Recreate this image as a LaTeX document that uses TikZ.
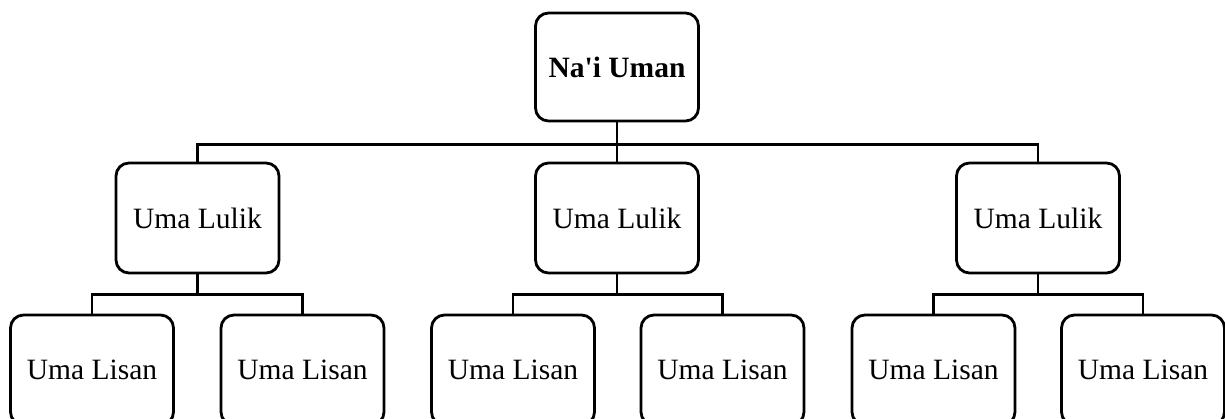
\documentclass[tikz,border=0pt]{standalone}
\usepackage{fontspec}
\setmainfont{Liberation Serif}
\begin{document}
\begin{tikzpicture}[x=1pt,y=-1pt,
  box/.style={draw,line width=2.8pt,rounded corners=13pt,minimum width=163pt,minimum height=110pt,inner sep=0pt,font=\fontsize{29.5}{34}\selectfont,anchor=center},
  link/.style={line width=2.4pt}]
\useasboundingbox (0,0) rectangle (1225,419);
\clip (0,0) rectangle (1225,419);
\node[box,minimum height=108pt,font=\fontsize{29.5}{34}\selectfont\bfseries] (top) at (617,67) {Na\textquotesingle i Uman};
\node[box] (m1) at (197.5,218) {Uma Lulik};
\node[box] (m2) at (617,218) {Uma Lulik};
\node[box] (m3) at (1038,218) {Uma Lulik};
\node[box] (b1) at (92,370) {Uma Lisan};
\node[box] (b2) at (302.5,370) {Uma Lisan};
\node[box] (b3) at (513,370) {Uma Lisan};
\node[box] (b4) at (722.5,370) {Uma Lisan};
\node[box] (b5) at (933.5,370) {Uma Lisan};
\node[box] (b6) at (1143,370) {Uma Lisan};
\draw[link] (top.south) -- ++(0,22) -| (m1.north);
\draw[link] (top.south) -- ++(0,22) -| (m3.north);
\draw[link] (top.south) -- (m2.north);
\draw[link] (m1.south) -- ++(0,20) -| (b1.north);
\draw[link] (m1.south) -- ++(0,20) -| (b2.north);
\draw[link] (m2.south) -- ++(0,20) -| (b3.north);
\draw[link] (m2.south) -- ++(0,20) -| (b4.north);
\draw[link] (m3.south) -- ++(0,20) -| (b5.north);
\draw[link] (m3.south) -- ++(0,20) -| (b6.north);
\end{tikzpicture}
\end{document}
